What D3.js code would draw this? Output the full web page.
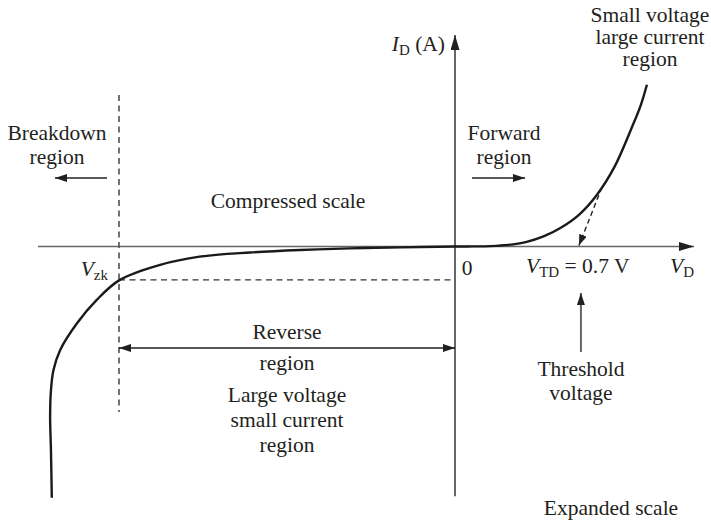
<!DOCTYPE html>
<html>
<head>
<meta charset="utf-8">
<script src="https://cdn.jsdelivr.net/npm/d3@7/dist/d3.min.js"></script>
<style>
  html, body { margin: 0; padding: 0; background: #fff; }
</style>
</head>
<body>
<svg id="chart" width="711" height="524" font-family="Liberation Serif, Times New Roman, serif"></svg>
<script>
// Diode I–V characteristic: reverse side (compressed scale) and forward side (expanded scale)

// Reverse branch: voltage (V) and current (mA), from the bottom of the breakdown knee to the origin
const reverseV = [-48.0, -48.1, -48.2, -48.1, -47.8, -47.0, -45.0, -42.65, -39.9, -35.1, -30.4, -24.4, -18.45, -12.5, -6.5, 0];
const reverseI = [-30.1, -24.4, -20.4, -17.2, -14.8, -12.4, -9.2, -6.4, -4.0, -2.2, -1.22, -0.72, -0.42, -0.22, -0.1, 0];

// Forward branch: voltage (V) and current (mA)
const forwardV = [0, 0.1, 0.2, 0.3, 0.4, 0.5, 0.6, 0.7, 0.8, 0.9, 1.0, 1.05, 1.084];
const forwardI = [0, 0.01, 0.04, 0.15, 0.42, 0.95, 1.8, 3.0, 4.85, 7.5, 11.3, 13.4, 15.3];

// Key voltages
const vZenerKnee = -40;
const iZenerKnee = -4.0;
const vThreshold = 0.7;
const tangentFrom = [0.83, 5.6];

// Axis extents (data units)
const xExtent = [-49.64, 1.35];
const yExtent = [-29.9, 20];

const svg = d3.select("#chart");
const ink = "#231f20";

// Piecewise scales: negative side compressed, positive side expanded
const x = d3.scaleLinear().domain([-50, 0, 1.35]).range([35, 455, 694]);
const y = d3.scaleLinear().domain([-30, 0, 20]).range([497, 246.5, 35]);

const defs = svg.append("defs");
function marker(id, len, half, color) {
  defs.append("marker")
    .attr("id", id)
    .attr("markerUnits", "userSpaceOnUse")
    .attr("viewBox", `0 0 ${len} ${half * 2}`)
    .attr("markerWidth", len)
    .attr("markerHeight", half * 2)
    .attr("refX", len)
    .attr("refY", half)
    .attr("orient", "auto-start-reverse")
    .append("path")
    .attr("d", `M0,0 L${len},${half} L0,${half * 2} Z`)
    .attr("fill", color);
}
marker("axisHead", 15, 4.5, ink);
marker("smallHead", 12, 4, ink);
marker("dashHead", 11, 4, ink);

const axisColor = "#666";
const dashColor = "#5a5a5a";

// Axes
svg.append("line")
  .attr("x1", x(xExtent[0])).attr("y1", y(0))
  .attr("x2", x(xExtent[1])).attr("y2", y(0))
  .attr("stroke", axisColor).attr("stroke-width", 1.6)
  .attr("marker-end", "url(#axisHead)");
svg.append("line")
  .attr("x1", x(0)).attr("y1", y(yExtent[0]))
  .attr("x2", x(0)).attr("y2", y(yExtent[1]))
  .attr("stroke", axisColor).attr("stroke-width", 2)
  .attr("marker-end", "url(#axisHead)");

// Breakdown boundary (dashed vertical) and knee current level (dashed horizontal)
svg.append("line")
  .attr("x1", x(vZenerKnee)).attr("y1", 95)
  .attr("x2", x(vZenerKnee)).attr("y2", 412)
  .attr("stroke", dashColor).attr("stroke-width", 1.7)
  .attr("stroke-dasharray", "6,4.5");
svg.append("line")
  .attr("x1", x(vZenerKnee)).attr("y1", y(iZenerKnee))
  .attr("x2", x(0)).attr("y2", y(iZenerKnee))
  .attr("stroke", "#333").attr("stroke-width", 1.3)
  .attr("stroke-dasharray", "6,4.5");

// Characteristic curve
const pts = reverseV.map((v, i) => [v, reverseI[i]])
  .concat(forwardV.slice(1).map((v, i) => [v, forwardI[i + 1]]));
svg.append("path")
  .datum(pts)
  .attr("d", d3.line().x(d => x(d[0])).y(d => y(d[1])).curve(d3.curveCatmullRom.alpha(0.5)))
  .attr("fill", "none")
  .attr("stroke", "#1a1a1a")
  .attr("stroke-width", 2.4);

// Dashed tangent down to the threshold voltage
svg.append("line")
  .attr("x1", x(tangentFrom[0])).attr("y1", y(tangentFrom[1]))
  .attr("x2", x(vThreshold)).attr("y2", y(0) - 1)
  .attr("stroke", ink).attr("stroke-width", 1.4)
  .attr("stroke-dasharray", "5,3.5")
  .attr("marker-end", "url(#dashHead)");

// Region arrows
function arrow(x1, y1, x2, y2, both) {
  const l = svg.append("line")
    .attr("x1", x1).attr("y1", y1).attr("x2", x2).attr("y2", y2)
    .attr("stroke", ink).attr("stroke-width", 1.5)
    .attr("marker-end", "url(#smallHead)");
  if (both) l.attr("marker-start", "url(#smallHead)");
}
arrow(107, 178, 55, 178);
arrow(472, 178, 525, 178);
arrow(x(vZenerKnee), 348, x(0), 348, true);
svg.append("line")
  .attr("x1", x(vThreshold) + 2).attr("y1", 352)
  .attr("x2", x(vThreshold) + 2).attr("y2", 293)
  .attr("stroke", axisColor).attr("stroke-width", 2)
  .attr("marker-end", "url(#smallHead)");

// Text labels
const fs = 21.5;
function label(tx, ty, lines, anchor = "middle", lh = 23) {
  const t = svg.append("text")
    .attr("x", tx).attr("y", ty)
    .attr("text-anchor", anchor)
    .attr("font-family", "Liberation Serif")
    .attr("fill", ink)
    .attr("font-size", fs);
  lines.forEach((s, i) => {
    t.append("tspan").attr("x", tx).attr("dy", i === 0 ? 0 : lh).text(s);
  });
}
label(650, 22, ["Small voltage", "large current", "region"], "middle", 22);
label(57, 140, ["Breakdown", "region"], "middle", 24);
label(504, 140, ["Forward", "region"], "middle", 24);
label(288, 208, ["Compressed scale"]);
label(287, 339, ["Reverse"]);
label(287, 370, ["region"]);
label(287, 402, ["Large voltage", "small current", "region"], "middle", 25);
label(581, 376, ["Threshold", "voltage"], "middle", 24);
label(611, 515, ["Expanded scale"]);
label(467, 275, ["0"]);

// Symbol with subscript, e.g. V_zk
function symbol(tx, ty, main, sub, rest, anchor) {
  const t = svg.append("text")
    .attr("x", tx).attr("y", ty)
    .attr("text-anchor", anchor)
    .attr("font-family", "Liberation Serif")
    .attr("fill", ink)
    .attr("font-size", fs);
  t.append("tspan").attr("font-style", "italic").text(main);
  t.append("tspan").attr("font-size", 15).attr("dy", 4).text(sub);
  if (rest) t.append("tspan").attr("dy", -4).text(rest);
  return t;
}
symbol(445, 51, "I", "D", " (A)", "end");
symbol(108, 276, "V", "zk", null, "end");
symbol(526, 273, "V", "TD", " = 0.7 V", "start");
symbol(670, 273, "V", "D", null, "start");
</script>
</body>
</html>
